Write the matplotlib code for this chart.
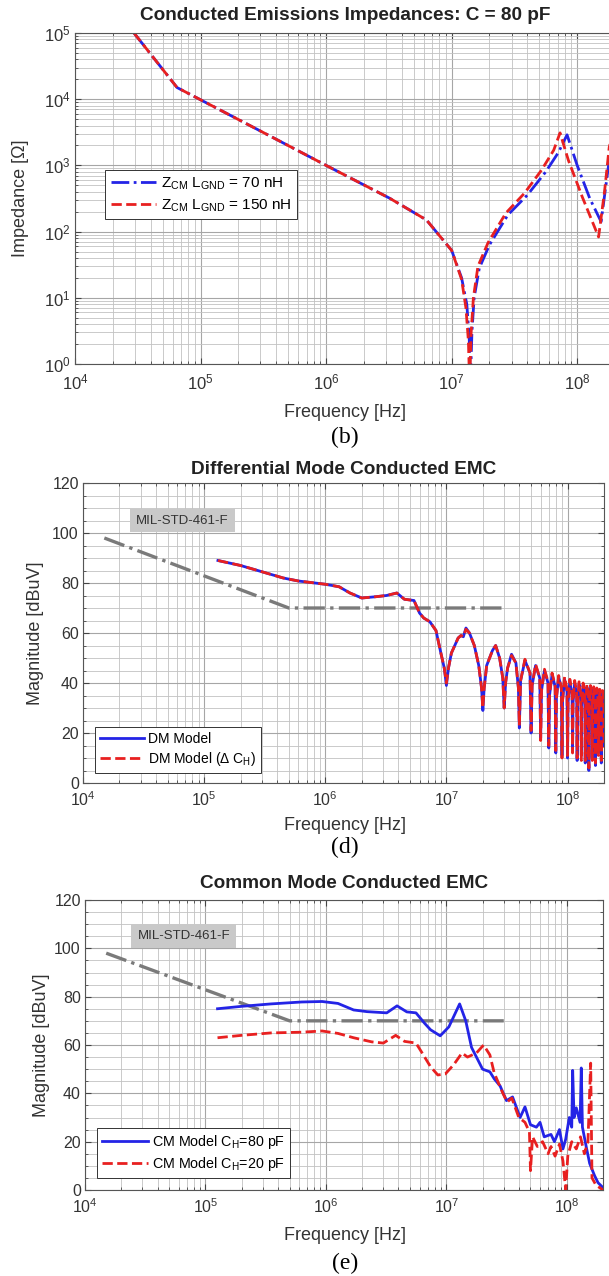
import matplotlib
matplotlib.use('Agg')
import matplotlib.pyplot as plt
from matplotlib.ticker import LogLocator, MultipleLocator, NullFormatter, FixedLocator

plt.rcParams['font.family'] = ['Liberation Sans', 'DejaVu Sans']
plt.rcParams['mathtext.fontset'] = 'custom'
plt.rcParams['mathtext.rm'] = 'Liberation Sans'
plt.rcParams['mathtext.it'] = 'Liberation Sans:italic'
plt.rcParams['mathtext.default'] = 'regular'

# ---------------- data: (b) impedances ----------------
zb_f70 = [2.95e4, 6.5e4, 1e5, 3.2e5, 1e6, 3.2e6, 6.3e6, 1e7, 1.2e7, 1.32e7, 1.38e7, 1.41e7,
          1.45e7, 1.51e7, 1.66e7, 2e7, 2.8e7, 4e7, 5.6e7, 7.1e7, 8.3e7, 1e8, 1.26e8, 1.55e8,
          1.8e8, 2e8]
zb_z70 = [1e5, 1.5e4, 9.8e3, 3.1e3, 1e3, 3.2e2, 1.5e2, 52, 20, 8, 2.5, 0.5,
          3, 10, 28, 63, 178, 355, 794, 1.58e3, 2.9e3, 1e3, 316, 141,
          1.2e3, 2.5e3]
zb_f150 = [2.95e4, 6.5e4, 1e5, 3.2e5, 1e6, 3.2e6, 6.3e6, 1e7, 1.2e7, 1.3e7, 1.36e7, 1.39e7,
           1.43e7, 1.49e7, 1.62e7, 1.95e7, 2.7e7, 3.8e7, 5.2e7, 6.5e7, 7.3e7, 8.5e7, 1.1e8,
           1.48e8, 1.65e8, 1.8e8, 2e8]
zb_z150 = [1e5, 1.5e4, 9.8e3, 3.1e3, 1e3, 3.2e2, 1.5e2, 52, 19, 7, 2.2, 0.5,
           3, 10, 30, 68, 190, 380, 850, 1.7e3, 3.1e3, 1.2e3, 330,
           83, 400, 1.9e3, 4e3]

# ---------------- data: (d) differential mode ----------------
dm_f = [1.3e5, 2e5, 3e5, 4.5e5, 6e5, 1e6, 1.3e6, 1.6e6, 2e6, 2.6e6, 3.2e6, 3.9e6, 4.5e6,
        5.4e6, 6e6, 6.5e6, 7.3e6, 8.2e6, 9e6, 9.6e6, 1e7, 1.04e7, 1.1e7, 1.25e7, 1.32e7,
        1.38e7, 1.45e7, 1.55e7, 1.7e7, 1.85e7, 1.95e7, 2e7, 2.05e7, 2.15e7, 2.4e7, 2.55e7,
        2.75e7, 2.92e7, 3e7, 3.08e7, 3.2e7, 3.45e7, 3.75e7, 3.93e7,
        4e7, 4.1e7, 4.45e7, 4.9e7, 5e7, 5.1e7, 5.45e7, 5.9e7, 6e7, 6.1e7, 6.45e7, 6.9e7,
        7e7, 7.1e7, 7.45e7, 7.9e7, 8e7, 8.1e7, 8.45e7, 8.9e7, 9e7, 9.1e7, 9.45e7, 9.9e7,
        1e8, 1.01e8, 1.045e8, 1.09e8, 1.1e8, 1.11e8, 1.145e8, 1.19e8, 1.2e8, 1.21e8, 1.245e8,
        1.29e8, 1.3e8, 1.31e8, 1.345e8, 1.39e8, 1.4e8, 1.41e8, 1.445e8, 1.49e8, 1.5e8,
        1.51e8, 1.545e8, 1.59e8, 1.6e8, 1.61e8, 1.645e8, 1.69e8, 1.7e8, 1.71e8, 1.745e8,
        1.79e8, 1.8e8, 1.81e8, 1.845e8, 1.89e8, 1.9e8, 1.91e8, 1.945e8, 1.99e8, 2e8]
dm_model = [89, 87, 84.5, 82, 80.8, 79.5, 78.5, 76, 74, 74.5, 75, 76, 73.5,
            73, 68, 66, 64.5, 61, 52, 46, 39, 46, 52, 58, 59,
            58.5, 62, 60, 55, 47, 38, 29, 38, 47, 53, 55,
            50, 42, 30, 40, 46, 51.5, 48, 38,
            22, 41, 49, 44, 20, 39, 47, 42, 18, 37, 45, 40,
            14, 35, 43.5, 38.5, 12, 34, 42.5, 37.5, 11, 33, 41.5, 36.5,
            10, 32, 40.5, 35.5, 13, 32, 40, 35, 9, 31, 39.5, 34.5,
            11, 31, 39, 34, 8, 30, 38.5, 33.5, 5,
            30, 38, 33, 10, 29, 37.5, 32.5, 7, 29, 37,
            32, 12, 28, 36.5, 31.5, 8, 28, 36, 31, 15]
dm_model_dch = [89, 87, 84.5, 82, 80.8, 79.5, 78.5, 76, 74, 74.5, 75, 76, 73.5,
                73, 68, 66, 64.5, 61, 52, 46, 40, 46, 52, 58, 59,
                58.5, 61.5, 60, 55, 47, 38, 30, 38, 47, 53, 55,
                50, 42, 30, 40, 46, 51, 48, 38,
                23, 41, 49.5, 44, 21, 39, 47.5, 42, 17, 37, 45.5, 40.5,
                15, 35, 44, 39, 13, 34, 43, 38, 10, 33, 42.5, 37.5,
                11, 32, 41.5, 36.5, 12, 32, 41, 36, 10, 31, 40.5, 35.5,
                9, 31, 40, 35, 9, 30, 39.5, 34.5, 6,
                30, 39, 34, 9, 29, 38.5, 33.5, 8, 29, 38,
                33, 11, 28, 37.5, 32.5, 9, 28, 37, 32, 14]

# ---------------- data: (e) common mode ----------------
cm_f80 = [1.26e5, 2e5, 3.5e5, 6.3e5, 9.3e5, 1.26e6, 1.7e6, 2.2e6, 3.2e6, 3.9e6, 4.7e6, 5.6e6,
          6.6e6, 7.4e6, 8.9e6, 1.05e7, 1.29e7, 1.45e7, 1.62e7, 2e7, 2.3e7, 2.5e7, 2.8e7,
          3.16e7, 3.55e7, 4.1e7, 4.5e7, 5e7, 5.6e7, 6e7, 6.5e7, 7.4e7, 7.9e7, 8.7e7, 9.3e7,
          9.8e7, 1.05e8, 1.1e8, 1.12e8, 1.15e8, 1.2e8, 1.29e8, 1.32e8, 1.35e8, 1.45e8,
          1.55e8, 1.7e8, 1.82e8, 2e8]
cm_80pf = [75, 76, 77, 77.8, 78, 77.2, 74.5, 73.8, 73.3, 76.2, 73.7, 73.3,
           69, 66.3, 63.8, 67.5, 77, 70, 59, 50, 48.9, 46, 43,
           37, 38.5, 30, 34.4, 27, 26, 28, 22, 23, 20, 25, 17,
           21, 30, 26, 49.5, 30, 34, 28, 50.5, 26, 18,
           11, 6, 3, 1]
cm_f20 = [1.26e5, 2e5, 3.5e5, 6.3e5, 9.3e5, 1.26e6, 1.7e6, 2.4e6, 3e6, 3.8e6, 4.5e6, 5.6e6,
          6.3e6, 7.4e6, 8.5e6, 9.8e6, 1.15e7, 1.35e7, 1.5e7, 1.78e7, 2.04e7, 2.3e7, 2.5e7,
          2.95e7, 3.2e7, 3.5e7, 4e7, 4.5e7, 4.9e7, 5e7, 5.2e7, 5.7e7, 6.3e7, 7e7, 7.4e7, 8e7,
          8.7e7, 9.3e7, 9.8e7, 1.02e8, 1.1e8, 1.2e8, 1.3e8, 1.4e8, 1.5e8, 1.58e8, 1.62e8,
          1.75e8, 2e8]
cm_20pf = [63, 64, 65, 65.3, 65.8, 64.8, 63, 61.3, 60.8, 64, 61.5, 60.8,
           56.7, 51, 47.6, 48, 51.8, 56.7, 55, 56.7, 60, 55.9, 48.4,
           40, 36.4, 38, 30, 28, 24, 8, 22, 18, 20, 15, 18, 14,
           19, 12, 0, 14, 20, 17, 22, 15, 20, 52.5, 5,
           2, 0]

# MIL-STD-461-F limit
mil_f = [1.5e4, 5e5, 3e7]
mil_db = [98, 70, 70]

W, H = 609, 1276
fig = plt.figure(figsize=(W / 100, H / 100), dpi=100)

BLUE = '#2424e6'
RED = '#e82020'
GRID_MAJ = '#a6a6a6'
GRID_MIN = '#c2c2c2'
TXT = '#333333'


def ax_rect(l, t, r, b):
    return [l / W, 1 - b / H, (r - l) / W, (b - t) / H]


def style(ax, tsize, xpad):
    ax.set_axisbelow(True)
    ax.grid(which='major', color=GRID_MAJ, lw=0.8)
    ax.grid(which='minor', color=GRID_MIN, lw=0.6)
    ax.tick_params(which='both', direction='in', top=True, right=True,
                   labelsize=tsize, labelcolor=TXT, color='#444444')
    ax.tick_params(which='major', length=4)
    ax.tick_params(which='minor', length=2)
    ax.tick_params(axis='x', pad=xpad)
    ax.tick_params(axis='y', pad=3)
    for s in ax.spines.values():
        s.set_color('#555555')
        s.set_linewidth(0.8)


def style_legend(leg):
    leg.get_frame().set_edgecolor('#333333')
    leg.get_frame().set_linewidth(0.7)


# ---------------- (b) ----------------
ax1 = fig.add_axes(ax_rect(75, 33, 615, 364))
ax1.set_xscale('log')
ax1.set_yscale('log')
ax1.plot(zb_f70, zb_z70, color=BLUE, ls='-.', lw=2,
         label=r'$Z_{CM}$ $L_{GND}$ = 70 nH')
ax1.plot(zb_f150, zb_z150, color=RED, ls='--', lw=2,
         label=r'$Z_{CM}$ $L_{GND}$ = 150 nH')
ax1.set_xlim(1e4, 2e8)
ax1.set_ylim(1, 1e5)
ax1.xaxis.set_major_locator(FixedLocator([1e4, 1e5, 1e6, 1e7, 1e8]))
ax1.xaxis.set_minor_locator(LogLocator(base=10, subs=range(2, 10), numticks=20))
ax1.yaxis.set_major_locator(FixedLocator([1, 1e1, 1e2, 1e3, 1e4, 1e5]))
ax1.yaxis.set_minor_locator(LogLocator(base=10, subs=range(2, 10), numticks=20))
ax1.xaxis.set_minor_formatter(NullFormatter())
ax1.yaxis.set_minor_formatter(NullFormatter())
style(ax1, 12, 6)
ax1.set_ylabel('Impedance [Ω]', fontsize=13, color=TXT)
ax1.yaxis.set_label_coords((21 - 75) / 540, 0.5)
ax1.set_xlabel('Frequency [Hz]', fontsize=13, color=TXT)
ax1.xaxis.set_label_coords((345 - 75) / 540, -(412 - 364) / 331)
ax1.xaxis.label.set_va('center')
ax1.yaxis.label.set_va('center')
leg = ax1.legend(loc='upper left', bbox_to_anchor=(0.056, 0.586), fontsize=11,
                 handlelength=3.0, fancybox=False, framealpha=1, borderpad=0.35,
                 labelspacing=0.35, handletextpad=0.3, borderaxespad=0)
style_legend(leg)
fig.text(345 / W, 1 - 15 / H, 'Conducted Emissions Impedances: C = 80 pF',
         ha='center', va='center', fontsize=13.7, fontweight='bold', color='#222222')
fig.text(345 / W, 1 - 437 / H, '(b)', ha='center', va='center', fontsize=17,
         family='Liberation Serif')


def emc_axes(rect, title, title_y, fcap_y, cap, xlab_y, ylab_x, left, right, top, bottom):
    ax = fig.add_axes(rect)
    ax.set_xscale('log')
    ax.set_xlim(1e4, 2e8)
    ax.set_ylim(0, 120)
    ax.xaxis.set_major_locator(FixedLocator([1e4, 1e5, 1e6, 1e7, 1e8]))
    ax.xaxis.set_minor_locator(LogLocator(base=10, subs=range(2, 10), numticks=20))
    ax.xaxis.set_minor_formatter(NullFormatter())
    ax.yaxis.set_major_locator(MultipleLocator(20))
    ax.yaxis.set_minor_locator(MultipleLocator(5))
    style(ax, 11.5, 5)
    ax.plot(mil_f, mil_db, color='#7a7a7a', ls='-.', lw=2.4, zorder=3)
    ax.text(6.6e4, 105, 'MIL-STD-461-F', ha='center', va='center', fontsize=9.5,
            color='#333333', zorder=5,
            bbox=dict(boxstyle='square,pad=0.45', facecolor='#c9c9c9', edgecolor='none'))
    ax.set_ylabel('Magnitude [dBuV]', fontsize=13, color=TXT)
    w = right - left
    hgt = bottom - top
    ax.yaxis.set_label_coords((ylab_x - left) / w, 0.5)
    ax.set_xlabel('Frequency [Hz]', fontsize=13, color=TXT)
    ax.xaxis.set_label_coords((345 - left) / w, -(xlab_y - bottom) / hgt)
    ax.xaxis.label.set_va('center')
    ax.yaxis.label.set_va('center')
    fig.text(344 / W, 1 - title_y / H, title, ha='center', va='center', fontsize=13.7,
             fontweight='bold', color='#222222')
    fig.text(345 / W, 1 - fcap_y / H, cap, ha='center', va='center', fontsize=17,
             family='Liberation Serif')
    return ax


# ---------------- (d) ----------------
ax2 = emc_axes(ax_rect(83, 483, 604, 783), 'Differential Mode Conducted EMC', 470, 847, '(d)',
               825, 35, 83, 604, 483, 783)
ax2.plot(dm_f, dm_model, color=BLUE, ls='-', lw=2, label='DM Model', zorder=4)
ax2.plot(dm_f, dm_model_dch, color=RED, ls='--', lw=2, label=r'DM Model ($\Delta$ C$_H$)',
         zorder=4)
leg2 = ax2.legend(loc='lower left', bbox_to_anchor=(0.023, 0.033), fontsize=10,
                  handlelength=3.2, fancybox=False, framealpha=1, borderpad=0.35,
                  labelspacing=0.3, handletextpad=0.3, borderaxespad=0)
style_legend(leg2)

# ---------------- (e) ----------------
ax3 = emc_axes(ax_rect(85, 900, 603, 1190), 'Common Mode Conducted EMC', 883, 1263, '(e)',
               1235, 42, 85, 603, 900, 1190)
ax3.plot(cm_f80, cm_80pf, color=BLUE, ls='-', lw=2, label='CM Model C$_H$=80 pF', zorder=4)
ax3.plot(cm_f20, cm_20pf, color=RED, ls='--', lw=2, label='CM Model C$_H$=20 pF', zorder=4)
leg3 = ax3.legend(loc='lower left', bbox_to_anchor=(0.023, 0.041), fontsize=10.3,
                  handlelength=3.2, fancybox=False, framealpha=1, borderpad=0.35,
                  labelspacing=0.3, handletextpad=0.3, borderaxespad=0)
style_legend(leg3)

fig.savefig('out.png', dpi=100)
